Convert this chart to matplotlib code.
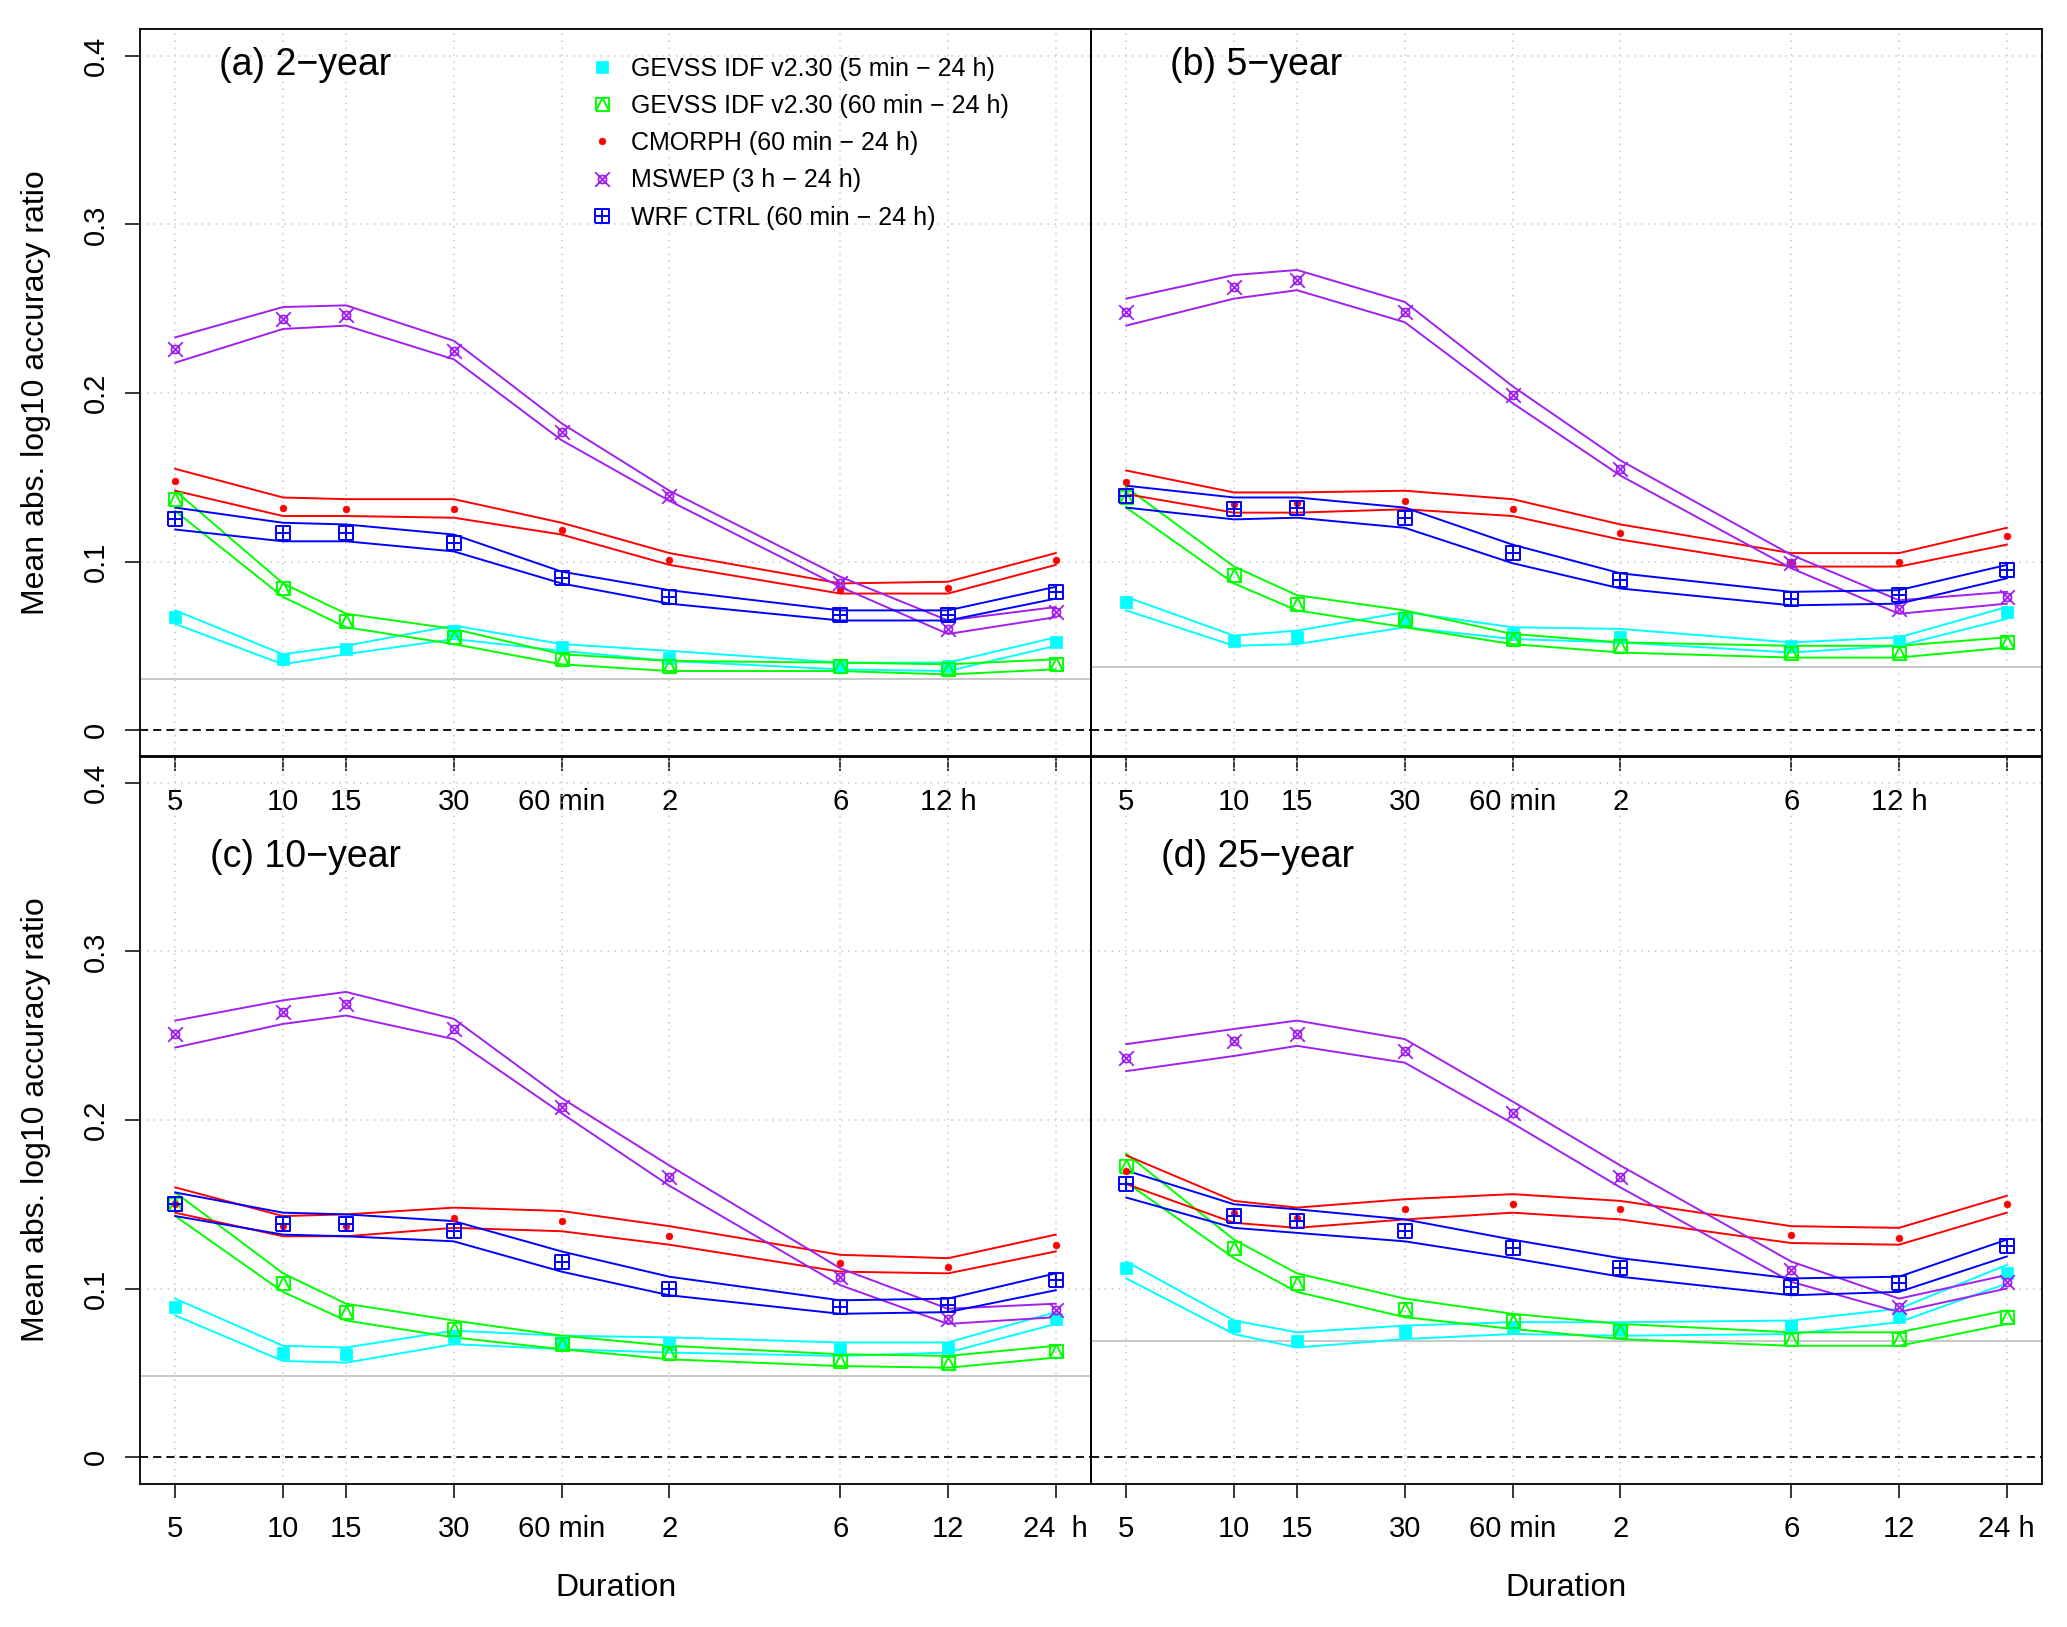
import numpy as np
import matplotlib
matplotlib.use("Agg")
import matplotlib.pyplot as plt
from matplotlib.path import Path
from matplotlib.ticker import NullLocator, FixedLocator, FixedFormatter

plt.rcParams['font.family'] = ['Liberation Sans', 'DejaVu Sans']

# ---------------- data ----------------
DUR_MIN = [5, 10, 15, 30, 60, 120, 360, 720, 1440]
XLABELS_TOP = ['5', '10', '15', '30', '60 min', '2', '6', '12 h', '']
XLABELS_C = ['5', '10', '15', '30', '60 min', '2', '6', '12', '24  h']
XLABELS_D = ['5', '10', '15', '30', '60 min', '2', '6', '12', '24 h']
YTICKS = [0, 0.1, 0.2, 0.3, 0.4]
YTICKLABELS = ['0', '0.1', '0.2', '0.3', '0.4']

PANEL_TITLES = ['(a) 2\u2212year', '(b) 5\u2212year', '(c) 10\u2212year', '(d) 25\u2212year']
REF_LINE = [0.0303, 0.0377, 0.0483, 0.0687]

LEGEND_LABELS = ['GEVSS IDF v2.30 (5 min \u2212 24 h)',
                 'GEVSS IDF v2.30 (60 min \u2212 24 h)',
                 'CMORPH (60 min \u2212 24 h)',
                 'MSWEP (3 h \u2212 24 h)',
                 'WRF CTRL (60 min \u2212 24 h)']

# (a) 2-year
A_GEV5_PT = [0.067, 0.042, 0.048, 0.059, 0.049, 0.043, 0.038, 0.038, 0.052]
A_GEV5_HI = [0.071, 0.045, 0.050, 0.062, 0.051, 0.047, 0.040, 0.040, 0.055]
A_GEV5_LO = [0.063, 0.039, 0.045, 0.054, 0.047, 0.041, 0.036, 0.035, 0.050]
A_GEV60_PT = [0.137, 0.084, 0.065, 0.055, 0.042, 0.038, 0.038, 0.036, 0.039]
A_GEV60_HI = [0.142, 0.087, 0.069, 0.060, 0.045, 0.041, 0.040, 0.039, 0.042]
A_GEV60_LO = [0.130, 0.079, 0.061, 0.051, 0.039, 0.035, 0.035, 0.033, 0.036]
A_CMO_PT = [0.148, 0.132, 0.131, 0.131, 0.119, 0.101, 0.083, 0.084, 0.101]
A_CMO_HI = [0.155, 0.138, 0.137, 0.137, 0.123, 0.105, 0.087, 0.088, 0.105]
A_CMO_LO = [0.142, 0.127, 0.127, 0.126, 0.116, 0.098, 0.081, 0.081, 0.098]
A_MSW_PT = [0.226, 0.244, 0.246, 0.225, 0.177, 0.139, 0.087, 0.060, 0.070]
A_MSW_HI = [0.233, 0.251, 0.252, 0.231, 0.182, 0.142, 0.091, 0.065, 0.073]
A_MSW_LO = [0.218, 0.238, 0.240, 0.220, 0.172, 0.136, 0.085, 0.057, 0.067]
A_WRF_PT = [0.125, 0.117, 0.117, 0.111, 0.090, 0.079, 0.068, 0.068, 0.082]
A_WRF_HI = [0.132, 0.123, 0.122, 0.116, 0.094, 0.083, 0.071, 0.071, 0.085]
A_WRF_LO = [0.119, 0.112, 0.112, 0.106, 0.087, 0.075, 0.065, 0.065, 0.078]

# (b) 5-year
B_GEV5_PT = [0.076, 0.053, 0.055, 0.066, 0.057, 0.055, 0.050, 0.053, 0.070]
B_GEV5_HI = [0.079, 0.056, 0.059, 0.070, 0.061, 0.060, 0.052, 0.055, 0.073]
B_GEV5_LO = [0.071, 0.050, 0.051, 0.061, 0.054, 0.052, 0.046, 0.050, 0.066]
B_GEV60_PT = [0.138, 0.092, 0.075, 0.066, 0.054, 0.050, 0.046, 0.046, 0.052]
B_GEV60_HI = [0.144, 0.097, 0.080, 0.071, 0.057, 0.052, 0.050, 0.050, 0.055]
B_GEV60_LO = [0.132, 0.087, 0.071, 0.061, 0.051, 0.046, 0.043, 0.043, 0.049]
B_CMO_PT = [0.147, 0.134, 0.135, 0.136, 0.131, 0.117, 0.100, 0.100, 0.115]
B_CMO_HI = [0.154, 0.141, 0.141, 0.142, 0.137, 0.122, 0.105, 0.105, 0.120]
B_CMO_LO = [0.140, 0.129, 0.129, 0.131, 0.127, 0.113, 0.097, 0.097, 0.110]
B_MSW_PT = [0.248, 0.263, 0.267, 0.248, 0.199, 0.155, 0.099, 0.072, 0.079]
B_MSW_HI = [0.256, 0.270, 0.273, 0.254, 0.204, 0.160, 0.104, 0.077, 0.082]
B_MSW_LO = [0.240, 0.256, 0.261, 0.242, 0.194, 0.151, 0.096, 0.069, 0.075]
B_WRF_PT = [0.139, 0.131, 0.132, 0.126, 0.105, 0.089, 0.078, 0.080, 0.095]
B_WRF_HI = [0.145, 0.138, 0.138, 0.132, 0.110, 0.093, 0.082, 0.083, 0.098]
B_WRF_LO = [0.132, 0.125, 0.126, 0.120, 0.099, 0.084, 0.074, 0.075, 0.090]

# (c) 10-year
C_GEV5_PT = [0.089, 0.062, 0.061, 0.071, 0.068, 0.067, 0.064, 0.065, 0.082]
C_GEV5_HI = [0.094, 0.066, 0.065, 0.075, 0.072, 0.071, 0.068, 0.068, 0.086]
C_GEV5_LO = [0.084, 0.057, 0.056, 0.067, 0.064, 0.062, 0.060, 0.062, 0.079]
C_GEV60_PT = [0.150, 0.103, 0.086, 0.076, 0.067, 0.062, 0.057, 0.056, 0.063]
C_GEV60_HI = [0.157, 0.109, 0.091, 0.081, 0.072, 0.066, 0.061, 0.060, 0.066]
C_GEV60_LO = [0.143, 0.098, 0.081, 0.071, 0.064, 0.058, 0.054, 0.053, 0.059]
C_CMO_PT = [0.150, 0.137, 0.137, 0.142, 0.140, 0.131, 0.115, 0.113, 0.126]
C_CMO_HI = [0.160, 0.143, 0.144, 0.148, 0.146, 0.137, 0.120, 0.118, 0.132]
C_CMO_LO = [0.145, 0.131, 0.131, 0.136, 0.134, 0.126, 0.110, 0.109, 0.122]
C_MSW_PT = [0.251, 0.264, 0.269, 0.254, 0.208, 0.166, 0.107, 0.082, 0.087]
C_MSW_HI = [0.259, 0.271, 0.276, 0.260, 0.213, 0.173, 0.112, 0.088, 0.091]
C_MSW_LO = [0.243, 0.257, 0.262, 0.248, 0.204, 0.161, 0.102, 0.079, 0.083]
C_WRF_PT = [0.150, 0.138, 0.138, 0.134, 0.116, 0.100, 0.089, 0.090, 0.105]
C_WRF_HI = [0.157, 0.145, 0.144, 0.140, 0.122, 0.107, 0.093, 0.094, 0.109]
C_WRF_LO = [0.143, 0.132, 0.131, 0.128, 0.110, 0.096, 0.085, 0.086, 0.099]

# (d) 25-year
D_GEV5_PT = [0.112, 0.078, 0.069, 0.074, 0.077, 0.076, 0.078, 0.083, 0.109]
D_GEV5_HI = [0.116, 0.081, 0.074, 0.078, 0.080, 0.080, 0.081, 0.088, 0.114]
D_GEV5_LO = [0.106, 0.073, 0.065, 0.070, 0.073, 0.072, 0.073, 0.080, 0.103]
D_GEV60_PT = [0.173, 0.124, 0.103, 0.088, 0.081, 0.075, 0.070, 0.070, 0.083]
D_GEV60_HI = [0.180, 0.129, 0.109, 0.094, 0.085, 0.079, 0.074, 0.074, 0.087]
D_GEV60_LO = [0.163, 0.118, 0.098, 0.083, 0.076, 0.070, 0.066, 0.066, 0.079]
D_CMO_PT = [0.170, 0.145, 0.142, 0.147, 0.150, 0.147, 0.132, 0.130, 0.150]
D_CMO_HI = [0.179, 0.152, 0.148, 0.153, 0.156, 0.152, 0.137, 0.136, 0.155]
D_CMO_LO = [0.162, 0.139, 0.136, 0.141, 0.145, 0.141, 0.127, 0.126, 0.145]
D_MSW_PT = [0.237, 0.247, 0.251, 0.241, 0.204, 0.166, 0.111, 0.089, 0.104]
D_MSW_HI = [0.245, 0.254, 0.259, 0.248, 0.211, 0.173, 0.116, 0.094, 0.108]
D_MSW_LO = [0.229, 0.238, 0.244, 0.234, 0.198, 0.160, 0.104, 0.086, 0.100]
D_WRF_PT = [0.162, 0.143, 0.140, 0.134, 0.124, 0.112, 0.101, 0.103, 0.125]
D_WRF_HI = [0.170, 0.150, 0.147, 0.141, 0.129, 0.118, 0.106, 0.107, 0.129]
D_WRF_LO = [0.154, 0.136, 0.133, 0.128, 0.118, 0.107, 0.096, 0.098, 0.119]

PANELS = [
    [(A_GEV5_PT, A_GEV5_LO, A_GEV5_HI), (A_GEV60_PT, A_GEV60_LO, A_GEV60_HI),
     (A_CMO_PT, A_CMO_LO, A_CMO_HI), (A_MSW_PT, A_MSW_LO, A_MSW_HI),
     (A_WRF_PT, A_WRF_LO, A_WRF_HI)],
    [(B_GEV5_PT, B_GEV5_LO, B_GEV5_HI), (B_GEV60_PT, B_GEV60_LO, B_GEV60_HI),
     (B_CMO_PT, B_CMO_LO, B_CMO_HI), (B_MSW_PT, B_MSW_LO, B_MSW_HI),
     (B_WRF_PT, B_WRF_LO, B_WRF_HI)],
    [(C_GEV5_PT, C_GEV5_LO, C_GEV5_HI), (C_GEV60_PT, C_GEV60_LO, C_GEV60_HI),
     (C_CMO_PT, C_CMO_LO, C_CMO_HI), (C_MSW_PT, C_MSW_LO, C_MSW_HI),
     (C_WRF_PT, C_WRF_LO, C_WRF_HI)],
    [(D_GEV5_PT, D_GEV5_LO, D_GEV5_HI), (D_GEV60_PT, D_GEV60_LO, D_GEV60_HI),
     (D_CMO_PT, D_CMO_LO, D_CMO_HI), (D_MSW_PT, D_MSW_LO, D_MSW_HI),
     (D_WRF_PT, D_WRF_LO, D_WRF_HI)],
]

# ---------------- styles ----------------
COLORS = ['#00FFFF', '#00FF00', '#FF0000', '#A020F0', '#0000FF']


def _seg(p0, p1):
    return Path([p0, p1], [Path.MOVETO, Path.LINETO])


_SQ = Path([(-1, -1), (1, -1), (1, 1), (-1, 1), (-1, -1)],
           [Path.MOVETO, Path.LINETO, Path.LINETO, Path.LINETO, Path.LINETO])
SQ_TRI = Path.make_compound_path(
    _SQ, Path([(-1, -1), (0, 1), (1, -1)], [Path.MOVETO, Path.LINETO, Path.LINETO]))
SQ_PLUS = Path.make_compound_path(_SQ, _seg((0, -1), (0, 1)), _seg((-1, 0), (1, 0)))
_circ = Path.circle((0, 0), 0.55)
CIRC_X = Path.make_compound_path(
    Path(_circ.vertices, _circ.codes), _seg((-1, -1), (1, 1)), _seg((-1, 1), (1, -1)))

MARKERS = [
    dict(marker='s', markersize=8.5, markerfacecolor=COLORS[0], markeredgecolor=COLORS[0], markeredgewidth=0.5),
    dict(marker=SQ_TRI, markersize=9.5, markerfacecolor='none', markeredgecolor=COLORS[1], markeredgewidth=1.4),
    dict(marker='o', markersize=5, markerfacecolor=COLORS[2], markeredgecolor=COLORS[2], markeredgewidth=0.3),
    dict(marker=CIRC_X, markersize=10.5, markerfacecolor='none', markeredgecolor=COLORS[3], markeredgewidth=1.3),
    dict(marker=SQ_PLUS, markersize=10, markerfacecolor='none', markeredgecolor=COLORS[4], markeredgewidth=1.4),
]

# ---------------- figure ----------------
W, H = 2067, 1627
fig = plt.figure(figsize=(W / 100, H / 100), dpi=100)

L0, L1, PW = 140 / W, 1091 / W, 951 / W
PH = 728 / H
B_TOP = 1 - 757 / H
B_BOT = 1 - 1484 / H
positions = [(L0, B_TOP), (L1, B_TOP), (L0, B_BOT), (L1, B_BOT)]

lx = np.log10(DUR_MIN)
ext = 0.04 * (lx[-1] - lx[0])
XLIM = (10 ** (lx[0] - ext), 10 ** (lx[-1] + ext))
YLIM = (-0.016, 0.416)

TICK_FS = 21
axes = []
for i, (x0, y0) in enumerate(positions):
    ax = fig.add_axes([x0, y0, PW, PH])
    ax.set_facecolor('none')
    ax.set_xscale('log')
    ax.set_xlim(*XLIM)
    ax.set_ylim(*YLIM)
    ax.xaxis.set_minor_locator(NullLocator())
    ax.xaxis.set_major_locator(FixedLocator(DUR_MIN))
    labels = XLABELS_TOP if i < 2 else (XLABELS_C if i == 2 else XLABELS_D)
    ax.xaxis.set_major_formatter(FixedFormatter(labels))
    ax.tick_params(axis='x', direction='out', length=10, width=1.1,
                   labelsize=TICK_FS, pad=12.5, color='black')
    ax.set_yticks(YTICKS)
    if i in (0, 2):
        ax.set_yticklabels(YTICKLABELS)
        ax.tick_params(axis='y', direction='out', length=10.5, width=1.1,
                       labelsize=TICK_FS, pad=11)
        plt.setp(ax.get_yticklabels(), rotation=90, va='center', ha='right')
    else:
        ax.tick_params(axis='y', length=0, labelleft=False)
    for sp in ax.spines.values():
        sp.set_linewidth(1.3)
        sp.set_color('black')

    # grid
    for xv in DUR_MIN:
        ax.axvline(xv, color='#C8C8C8', lw=1.1, ls=(0, (1, 3.5)), zorder=0.5)
    for yv in YTICKS[1:]:
        ax.axhline(yv, color='#C8C8C8', lw=1.1, ls=(0, (1, 3.5)), zorder=0.5)
    ax.axhline(0, color='black', lw=1.3, ls=(0, (4.5, 2.8)), zorder=1)
    ax.axhline(REF_LINE[i], color='#C8C8C8', lw=1.4, zorder=1)

    for k, (pt, lo, hi) in enumerate(PANELS[i]):
        ax.plot(DUR_MIN, hi, color=COLORS[k], lw=1.4, zorder=2)
        ax.plot(DUR_MIN, lo, color=COLORS[k], lw=1.4, zorder=2)
        ax.plot(DUR_MIN, pt, ls='none', zorder=3, **MARKERS[k])

    ax.text(0.083 if i < 2 else 0.074, 0.951 if i < 2 else 0.861, PANEL_TITLES[i],
            transform=ax.transAxes, fontsize=27, ha='left', va='center')
    axes.append(ax)

# legend in panel (a)
handles = [axes[0].plot([], [], ls='none', **MARKERS[k])[0] for k in range(5)]
axes[0].legend(handles, LEGEND_LABELS, loc='upper left', bbox_to_anchor=(0.4753, 0.962),
               frameon=False, fontsize=18, handlelength=0.8, handletextpad=0.76,
               labelspacing=0.53, borderpad=0, borderaxespad=0)

# axis labels
YLAB = 'Mean abs. log10 accuracy ratio'
fig.text(36 / W, 1 - 393 / H, YLAB, rotation=90, ha='center', va='center', fontsize=23)
fig.text(36 / W, 1 - 1120 / H, YLAB, rotation=90, ha='center', va='center', fontsize=23)
fig.text(615.5 / W, 1 - 1588 / H, 'Duration', ha='center', va='center', fontsize=23)
fig.text(1566.5 / W, 1 - 1588 / H, 'Duration', ha='center', va='center', fontsize=23)

fig.savefig('out.png', dpi=100)
